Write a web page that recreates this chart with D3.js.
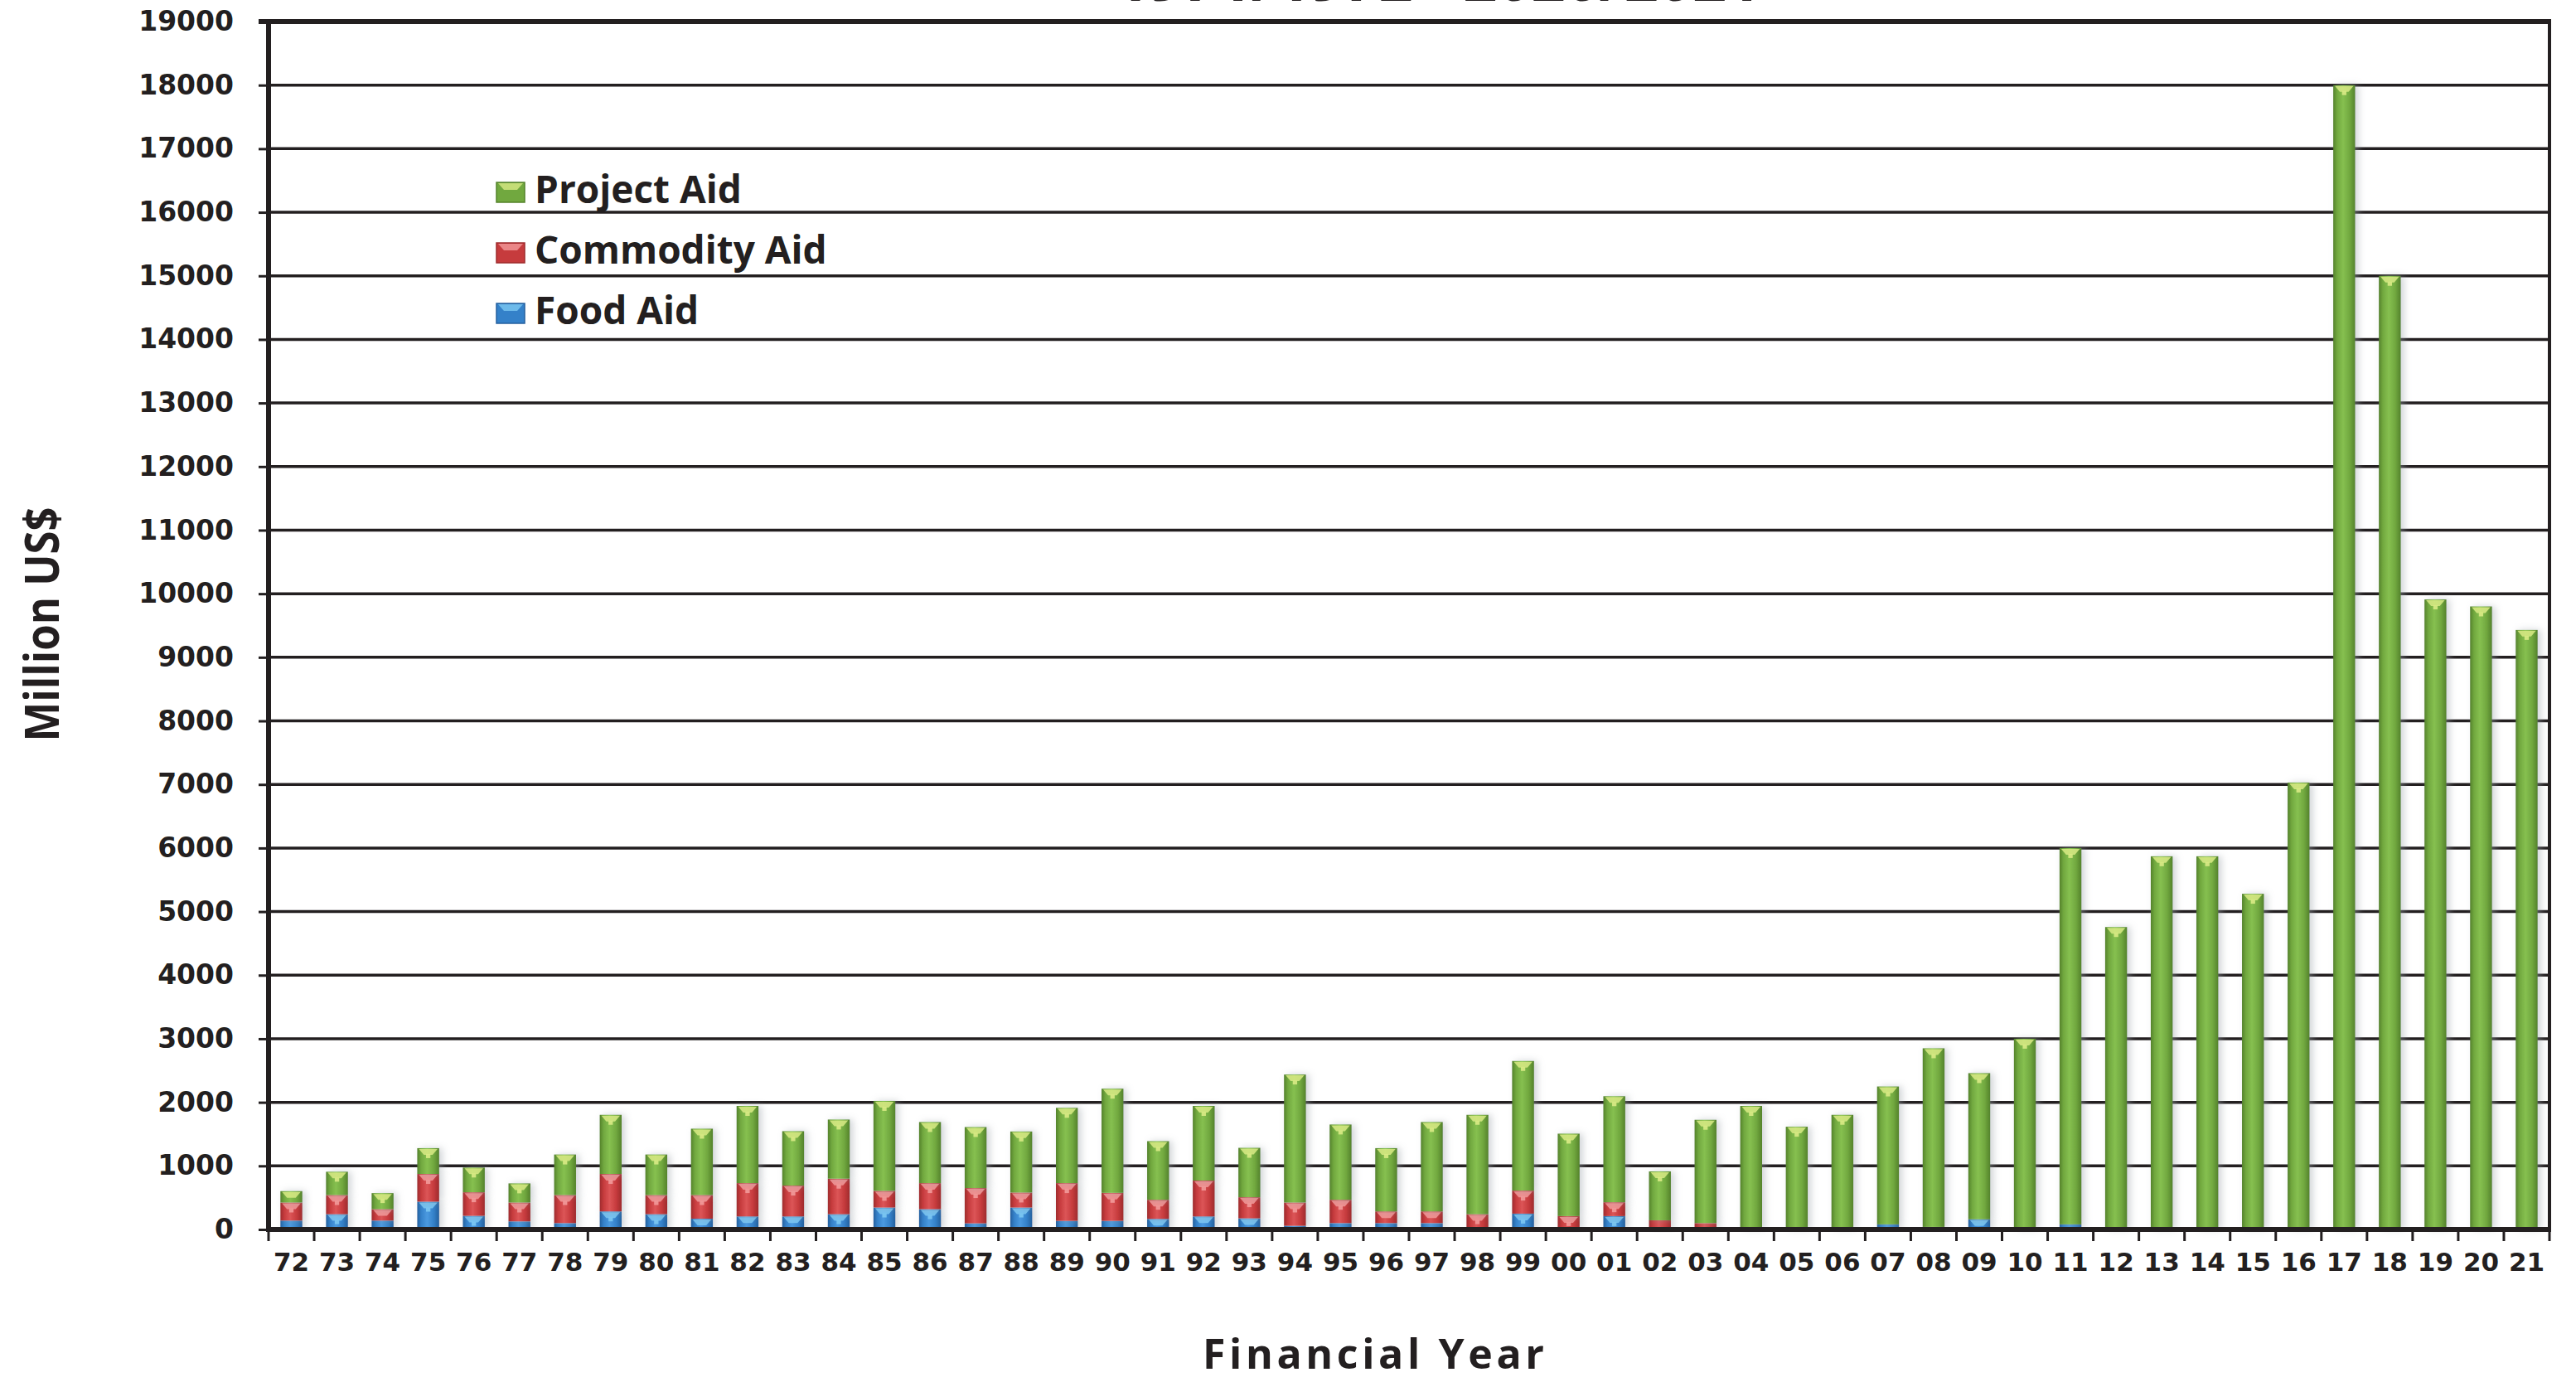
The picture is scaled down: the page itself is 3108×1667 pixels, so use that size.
<!DOCTYPE html>
<html><head><meta charset="utf-8">
<script src="https://cdn.jsdelivr.net/npm/d3@7"></script>
<style>
html,body{margin:0;padding:0;background:#fff;}
svg{display:block;}
</style></head>
<body>
<svg id="chart" width="3108" height="1667"></svg>
<script>
// ---- data ----
const years = ["72","73","74","75","76","77","78","79","80","81","82","83","84","85","86","87","88","89","90","91","92","93","94","95","96","97","98","99","00","01","02","03","04","05","06","07","08","09","10","11","12","13","14","15","16","17","18","19","20","21"];
const foodAid = [140,240,140,437,214,127,100,284,240,170,205,205,240,345,319,96,345,135,135,166,205,175,57,100,100,100,0,249,0,210,0,0,0,0,0,80,40,160,0,80,0,0,0,0,0,0,0,0,0,0];
const commodityAid = [284,301,179,436,371,297,441,589,301,371,524,485,559,262,410,555,236,594,441,301,564,332,367,367,184,184,240,362,210,218,144,100,0,0,0,0,0,0,0,0,0,0,0,0,0,0,0,0,0,0];
const projectAid = [179,367,253,406,389,301,638,930,638,1044,1214,856,930,1415,961,960,960,1184,1638,922,1174,777,2013,1184,995,1406,1563,2039,1297,1668,769,1625,1943,1616,1803,2169,2810,2299,3000,5920,4757,5870,5870,5280,7030,18000,15000,9910,9800,9430];
const seriesNames = ["Food Aid","Commodity Aid","Project Aid"];
const yTicks = [0,1000,2000,3000,4000,5000,6000,7000,8000,9000,10000,11000,12000,13000,14000,15000,16000,17000,18000,19000];
const titleText = "1971/1972 - 2020/2021";
const xTitle = "Financial Year";
const yTitle = "Million US$";

// ---- layout ----
const L = 324, R = 3076, T = 26, B = 1483;
const svg = d3.select("#chart");
svg.append("rect").attr("width",3108).attr("height",1667).attr("fill","#fff");

const rows = years.map((y,i)=>({year:y, "Food Aid":foodAid[i], "Commodity Aid":commodityAid[i], "Project Aid":projectAid[i]}));
const stack = d3.stack().keys(seriesNames)(rows);

const x = d3.scaleBand().domain(years).range([L, R]).paddingInner(0.52).paddingOuter(0.26);
const y = d3.scaleLinear().domain([0,19000]).range([B, T]);

const ink = "#231f20";
const palette = {
  "Food Aid":      {dark:"#24609e", mid:"#3481c9", light:"#4b9ae0", cap:"#7cc8f2"},
  "Commodity Aid": {dark:"#9e2b2d", mid:"#c63b3d", light:"#dc5557", cap:"#f29a9a"},
  "Project Aid":   {dark:"#54822b", mid:"#71a83f", light:"#86c050", cap:"#d9ea85"}
};

const defs = svg.append("defs");
seriesNames.forEach((k,i)=>{
  const c = palette[k];
  const g = defs.append("linearGradient").attr("id","g"+i).attr("x1",0).attr("x2",1).attr("y1",0).attr("y2",0);
  [[0,c.dark],[0.18,c.mid],[0.45,c.light],[0.75,c.mid],[1,c.dark]].forEach(s=>g.append("stop").attr("offset",s[0]).attr("stop-color",s[1]));
});
const f = defs.append("filter").attr("id","shadow").attr("x","-50%").attr("y","-5%").attr("width","200%").attr("height","110%");
f.append("feDropShadow").attr("dx",4).attr("dy",0).attr("stdDeviation",4).attr("flood-color","#9aa0a8").attr("flood-opacity",0.45);

// title (cut off at the top edge, as in the reference)
svg.append("text").attr("x",1735).attr("y",1).attr("text-anchor","middle")
  .attr("font-family","Open Sans").attr("font-weight","bold").attr("font-size",72).attr("fill",ink)
  .text(titleText);

// gridlines
svg.append("g").selectAll("line").data(yTicks.filter(v=>v>0 && v<19000)).join("line")
  .attr("x1",L).attr("x2",R).attr("y1",d=>y(d)).attr("y2",d=>y(d))
  .attr("stroke",ink).attr("stroke-width",3.5);

// bars
const bw = x.bandwidth();
const layers = svg.append("g").selectAll("g").data(stack).join("g")
  .attr("filter","url(#shadow)");
layers.each(function(layer, li){
  const g = d3.select(this);
  const c = palette[layer.key];
  const segs = layer.filter(d=>d[1]-d[0] > 0);
  g.selectAll("rect.seg").data(segs).join("rect").attr("class","seg")
    .attr("x",d=>x(d.data.year)).attr("width",bw)
    .attr("y",d=>y(d[1])).attr("height",d=>y(d[0])-y(d[1]))
    .attr("fill","url(#g"+li+")");
  g.selectAll("path.cap").data(segs.filter(d=>y(d[0])-y(d[1])>12)).join("path").attr("class","cap")
    .attr("d",d=>{const x0=x(d.data.year), y0=y(d[1]); return `M${x0+2},${y0+1}H${x0+bw-2}L${x0+bw*0.7},${y0+8}H${x0+bw*0.3}Z`;})
    .attr("fill",c.cap).attr("opacity",0.85);
  g.selectAll("rect.capdot").data(segs.filter(d=>y(d[0])-y(d[1])>16)).join("rect").attr("class","capdot")
    .attr("x",d=>x(d.data.year)+bw*0.4).attr("width",bw*0.2)
    .attr("y",d=>y(d[1])+7).attr("height",5)
    .attr("fill",c.cap).attr("opacity",0.9);
});

// frame: top & right
svg.append("line").attr("x1",312).attr("x2",R+2).attr("y1",T).attr("y2",T).attr("stroke",ink).attr("stroke-width",6);
svg.append("line").attr("x1",R).attr("x2",R).attr("y1",T).attr("y2",B).attr("stroke",ink).attr("stroke-width",4);

// y axis
const yAxis = svg.append("g").attr("transform",`translate(${L},0)`)
  .call(d3.axisLeft(y).tickValues(yTicks).tickFormat(d3.format("d")).tickSize(12).tickPadding(30));
yAxis.select(".domain").attr("stroke",ink).attr("stroke-width",6).attr("d",`M0,${T-3}V${B}`);
yAxis.selectAll(".tick line").attr("stroke",ink).attr("stroke-width",3);
yAxis.selectAll(".tick text").attr("fill",ink).attr("font-family","DejaVu Sans").attr("font-weight","bold").attr("font-size",33);

// x axis
const xAxis = svg.append("g").attr("transform",`translate(0,${B})`)
  .call(d3.axisBottom(x).tickSize(0).tickPadding(50));
xAxis.select(".domain").attr("stroke",ink).attr("stroke-width",6).attr("d",`M${L-3},0H${R+2}`);
xAxis.selectAll(".tick text").attr("fill",ink).attr("font-family","DejaVu Sans").attr("font-weight","bold").attr("font-size",31).attr("dy","0");
const step = x.step();
const bounds = d3.range(years.length+1).map(i=>L+i*step);
svg.append("g").selectAll("line").data(bounds).join("line")
  .attr("x1",d=>d).attr("x2",d=>d).attr("y1",B).attr("y2",B+14)
  .attr("stroke",ink).attr("stroke-width",3);

// axis titles
svg.append("text").attr("x",1657).attr("y",1651).attr("text-anchor","middle")
  .attr("font-family","Open Sans").attr("font-weight","bold").attr("font-size",50).attr("fill",ink)
  .attr("textLength",412).attr("lengthAdjust","spacing")
  .text(xTitle);
svg.append("text").attr("transform","translate(71,753) rotate(-90)").attr("text-anchor","middle")
  .attr("font-family","Open Sans").attr("font-weight","bold").attr("font-size",58).attr("fill",ink)
  .attr("textLength",283).attr("lengthAdjust","spacingAndGlyphs")
  .text(yTitle);

// legend
const legendOrder = ["Project Aid","Commodity Aid","Food Aid"];
const lg = svg.append("g");
legendOrder.forEach((k,i)=>{
  const by = 245 + i*73;
  const c = palette[k];
  lg.append("rect").attr("x",599).attr("y",by-25).attr("width",34).attr("height",24).attr("fill",c.mid).attr("stroke",c.dark).attr("stroke-width",1.5);
  lg.append("path").attr("d",`M601,${by-24}H631L624,${by-16}H608Z`).attr("fill",c.cap).attr("opacity",0.8);
  lg.append("text").attr("x",645).attr("y",by).attr("font-family","Open Sans").attr("font-weight","bold")
    .attr("font-size",46).attr("fill",ink).text(k);
});
</script>
</body></html>
